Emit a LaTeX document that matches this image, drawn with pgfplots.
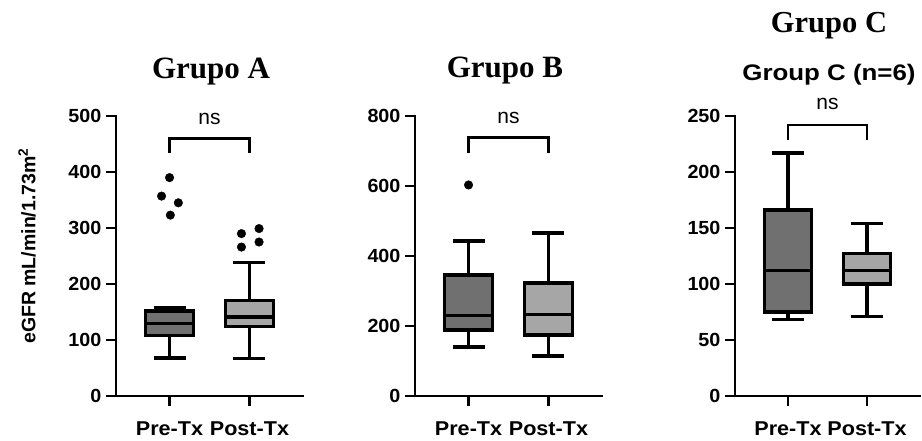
\documentclass[border=0pt]{standalone}
\usepackage{graphicx}
\usepackage{pgfplots}
\pgfplotsset{compat=1.18}
\usepackage{fontspec}
\setmainfont{Liberation Sans}
\newfontfamily\titlefont{Liberation Serif}
\definecolor{pregray}{HTML}{707070}
\definecolor{postgray}{HTML}{A6A6A6}
\pgfplotsset{
  panel/.style={
    scale only axis, height=280pt, ymin=0,
    xmin=0.33, xmax=2.67, clip=false,
    axis x line=bottom, axis y line=left,
    axis line style={-, line width=2.8pt, line cap=rect},
    xtick={1,2},
    xticklabels={{\scalebox{1.08}[1]{Pre-Tx}}, {\scalebox{1.08}[1]{Post-Tx}}},
    tick align=outside, major tick length=10pt,
    tick style={line width=2.8pt, black},
    /pgf/number format/assume math mode=true,
    yticklabel={\scalebox{1.04}[1]{\pgfmathprintnumber{\tick}}},
    yticklabel style={font=\fontsize{19}{21}\selectfont\bfseries, xshift=-1pt},
    xticklabel style={font=\fontsize{20}{22}\selectfont\bfseries, yshift=-12pt},
    unbounded coords=jump,
  },
  wh/.style={draw=black, line width=3.3pt, mark=none},
  prebox/.style={draw=black, line width=3.3pt, fill=pregray, mark=none, line join=miter},
  postbox/.style={draw=black, line width=3.3pt, fill=postgray, mark=none, line join=miter},
  outl/.style={only marks, mark=*, mark size=4.3pt, black, mark options={fill=black}},
}
\begin{document}
\begin{tikzpicture}
\useasboundingbox (0,0) rectangle (922pt,-440pt);
% ---------------- Panel A
\begin{axis}[panel, at={(116pt,-396pt)}, anchor=south west, width=187pt,
  ymax=500, ytick={0,100,200,300,400,500}]
% Pre-Tx: lw 68, q1 108, med 130, q3 152, uw 157
\addplot[wh] coordinates {(1,68) (1,157) (nan,nan) (0.8,157) (1.2,157) (nan,nan) (0.8,68) (1.2,68)};
\addplot[prebox] coordinates {(0.7,108) (1.3,108) (1.3,152) (0.7,152)} -- cycle;
\addplot[wh] coordinates {(0.7,130) (1.3,130)};
% Post-Tx: lw 67, q1 124, med 141, q3 171, uw 239
\addplot[wh] coordinates {(2,67) (2,239) (nan,nan) (1.8,239) (2.2,239) (nan,nan) (1.8,67) (2.2,67)};
\addplot[postbox] coordinates {(1.7,124) (2.3,124) (2.3,171) (1.7,171)} -- cycle;
\addplot[wh] coordinates {(1.7,141) (2.3,141)};
\addplot[outl] coordinates {(1.00,390) (0.90,357) (1.11,345) (1.01,323) (1.90,290) (2.12,299) (1.90,266) (2.12,275)};
\draw[line width=2.6pt] (axis cs:1,434) |- (axis cs:2,460) -- (axis cs:2,434);
\node[anchor=base, font=\fontsize{21}{24}\selectfont] at (axis cs:1.5,484) {ns};
\end{axis}
% ---------------- Panel B
\begin{axis}[panel, at={(415pt,-396pt)}, anchor=south west, width=187pt,
  ymax=800, ytick={0,200,400,600,800}]
% Pre-Tx: lw 140, q1 189, med 231, q3 346, uw 443
\addplot[wh] coordinates {(1,140) (1,443) (nan,nan) (0.8,443) (1.2,443) (nan,nan) (0.8,140) (1.2,140)};
\addplot[prebox] coordinates {(0.7,189) (1.3,189) (1.3,346) (0.7,346)} -- cycle;
\addplot[wh] coordinates {(0.7,231) (1.3,231)};
% Post-Tx: lw 114, q1 174, med 233, q3 323, uw 466
\addplot[wh] coordinates {(2,114) (2,466) (nan,nan) (1.8,466) (2.2,466) (nan,nan) (1.8,114) (2.2,114)};
\addplot[postbox] coordinates {(1.7,174) (2.3,174) (2.3,323) (1.7,323)} -- cycle;
\addplot[wh] coordinates {(1.7,233) (2.3,233)};
\addplot[outl] coordinates {(1.00,603)};
\draw[line width=2.6pt] (axis cs:1,694) |- (axis cs:2,738) -- (axis cs:2,694);
\node[anchor=base, font=\fontsize{21}{24}\selectfont] at (axis cs:1.5,779) {ns};
\end{axis}
% ---------------- Panel C
\begin{axis}[panel, at={(735pt,-396pt)}, anchor=south west, width=185pt,
  ymax=250, ytick={0,50,100,150,200,250}]
% Pre-Tx: lw 68, q1 75, med 112, q3 166, uw 217
\addplot[wh] coordinates {(1,68) (1,217) (nan,nan) (0.8,217) (1.2,217) (nan,nan) (0.8,68) (1.2,68)};
\addplot[prebox] coordinates {(0.7,75) (1.3,75) (1.3,166) (0.7,166)} -- cycle;
\addplot[wh] coordinates {(0.7,112) (1.3,112)};
% Post-Tx: lw 71, q1 100, med 112, q3 127, uw 154
\addplot[wh] coordinates {(2,71) (2,154) (nan,nan) (1.8,154) (2.2,154) (nan,nan) (1.8,71) (2.2,71)};
\addplot[postbox] coordinates {(1.7,100) (2.3,100) (2.3,127) (1.7,127)} -- cycle;
\addplot[wh] coordinates {(1.7,112) (2.3,112)};
\draw[line width=2.6pt] (axis cs:1,229) |- (axis cs:2,242) -- (axis cs:2,229);
\node[anchor=base, font=\fontsize{21}{24}\selectfont] at (axis cs:1.5,256) {ns};
\end{axis}
% ---------------- Titles and y label
\node[anchor=base, font=\fontsize{31}{34}\selectfont\titlefont\bfseries] at (211pt,-78pt) {Grupo A};
\node[anchor=base, font=\fontsize{31}{34}\selectfont\titlefont\bfseries] at (505pt,-77pt) {Grupo B};
\node[anchor=base, font=\fontsize{30.5}{34}\selectfont\titlefont\bfseries] at (829pt,-32pt) {Grupo C};
\node[anchor=base, font=\fontsize{22.5}{26}\selectfont\bfseries] at (829pt,-80pt) {\scalebox{1.15}[1]{Group C (n=6)}};
\node[rotate=90, font=\fontsize{19.5}{22}\selectfont\bfseries] at (27pt,-246pt) {eGFR mL/min/1.73m\textsuperscript{2}};
\end{tikzpicture}
\end{document}
